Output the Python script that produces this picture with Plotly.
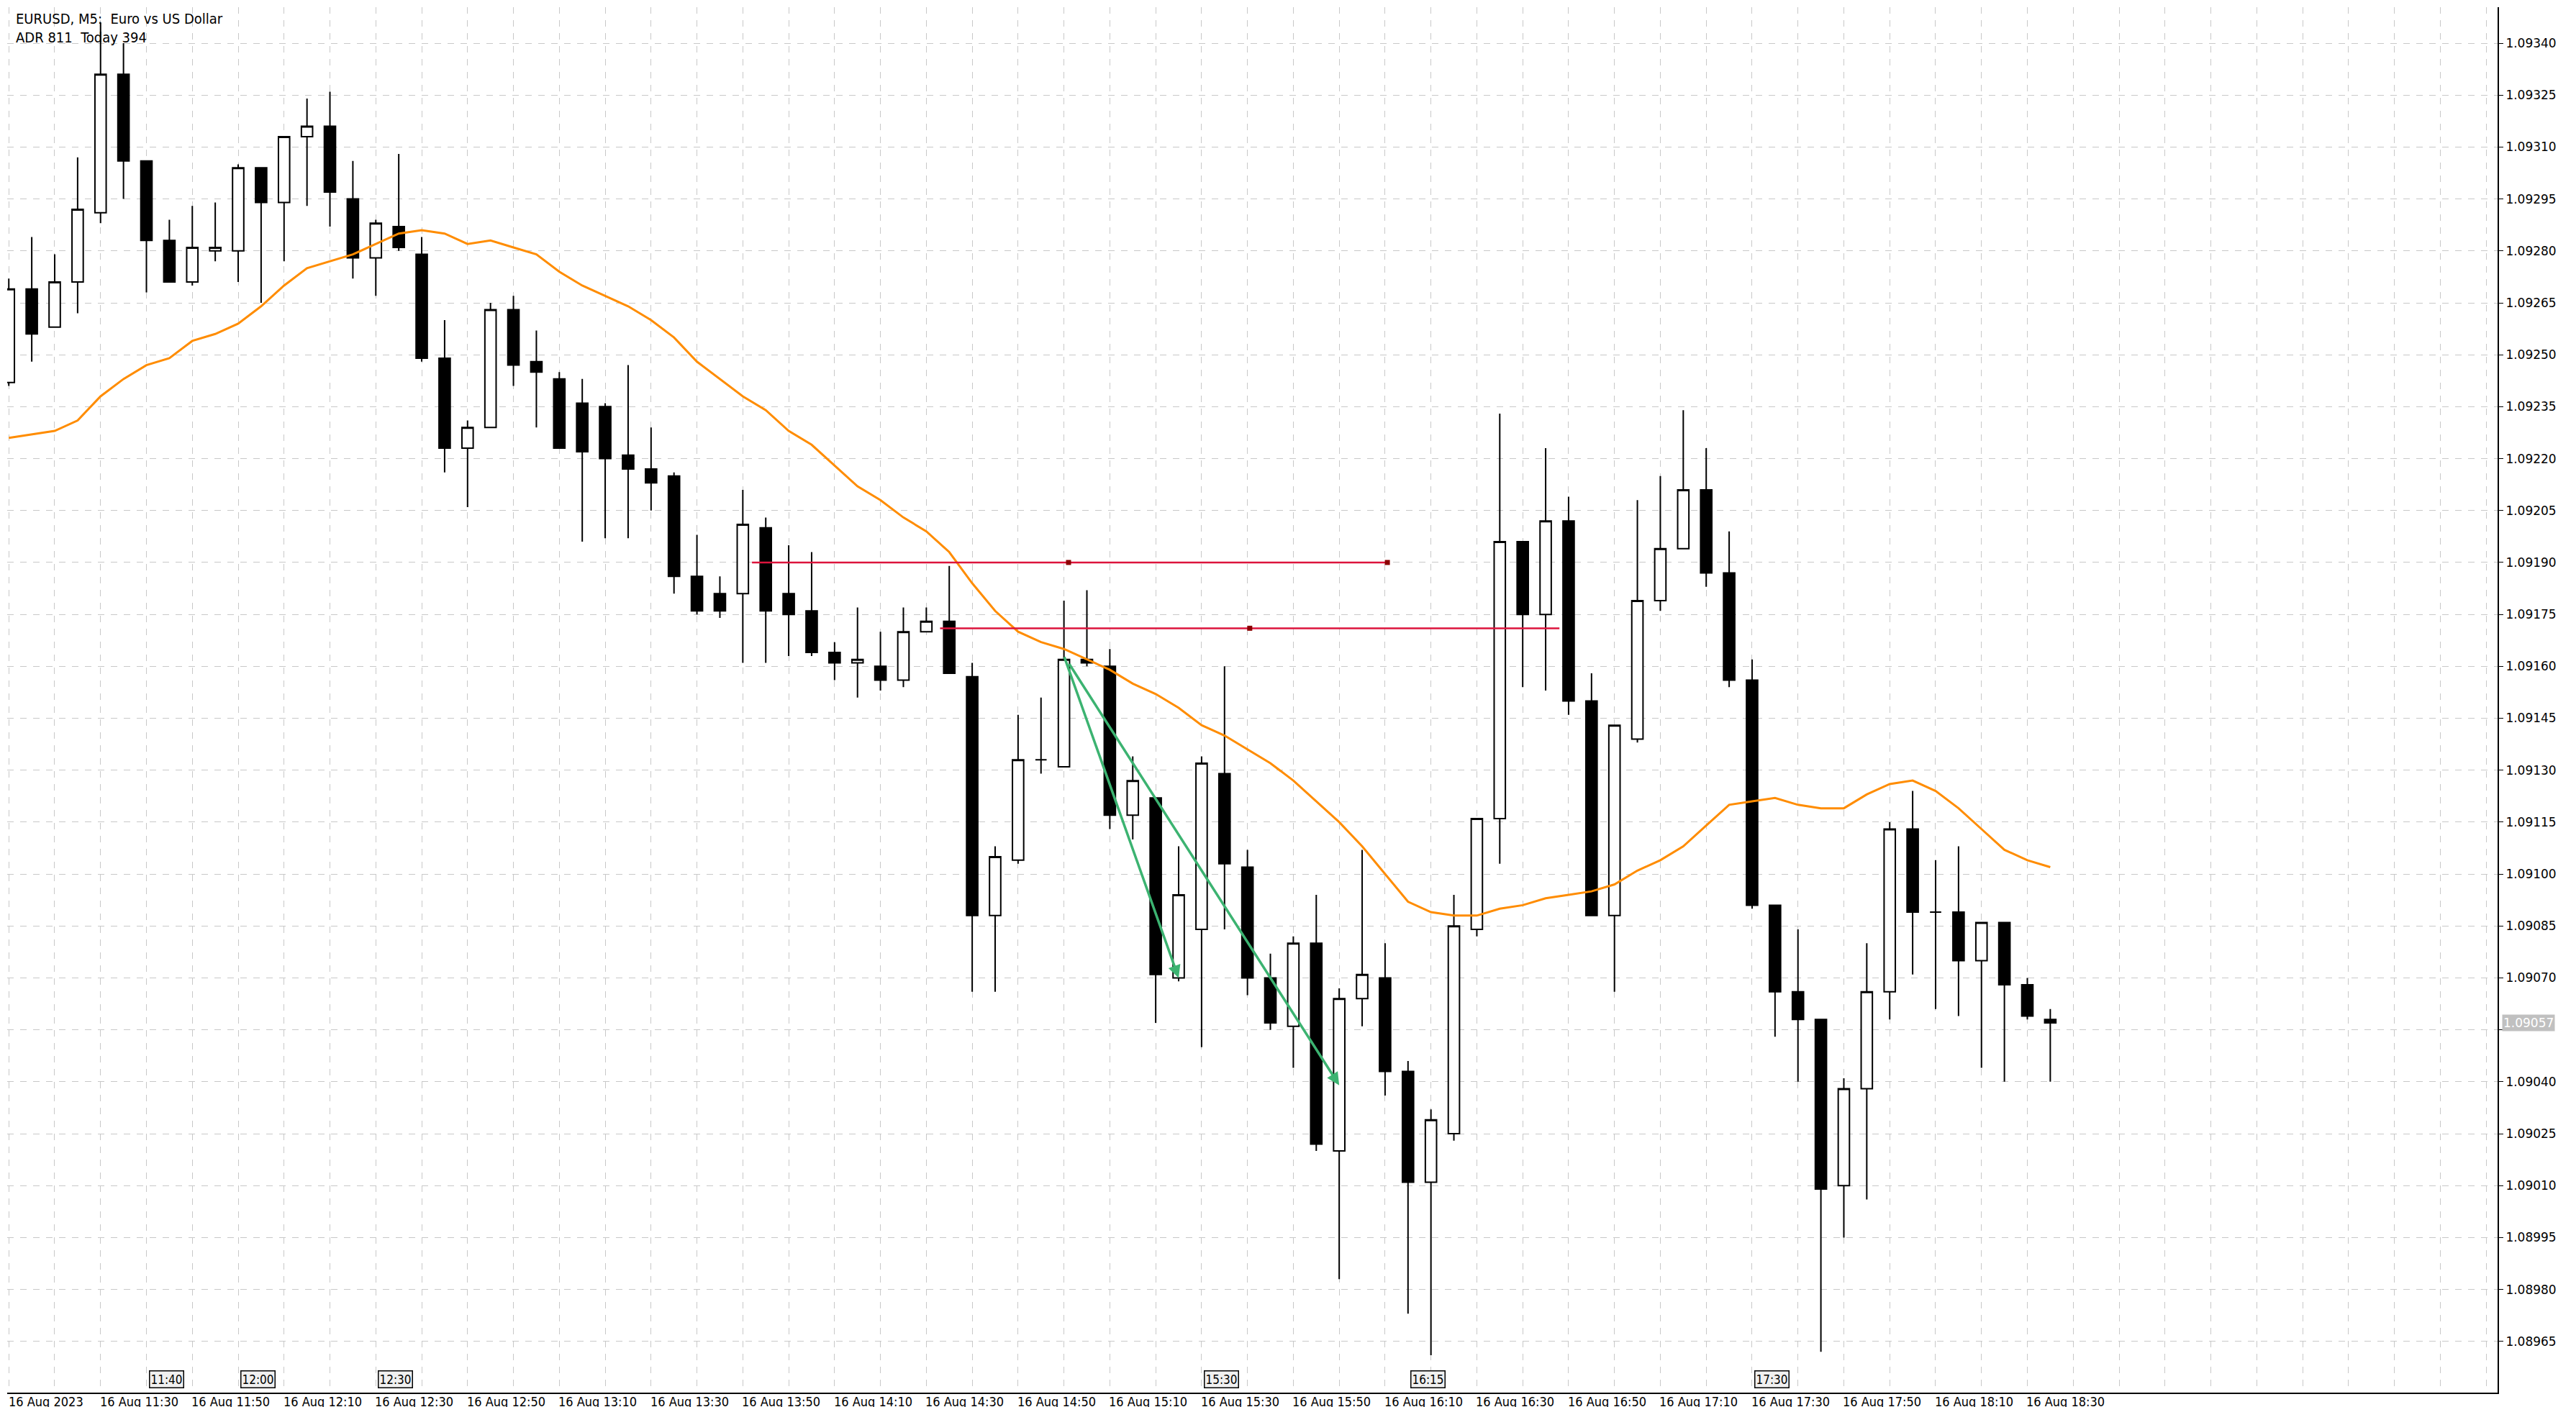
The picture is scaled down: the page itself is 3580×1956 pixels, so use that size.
import plotly.graph_objects as go

BASE = 1.08900
# prices as points (1e-5) above 1.08900, bar index 0 = first visible bar
opens  = [342,369,358,371,391,431,406,383,371,380,380,404,394,413,416,395,378,387,379,349,323,329,363,348,343,336,335,321,317,315,
          286,281,281,300,281,276,264,261,260,256,270,273,257,188,204,233,231,262,260,217,222,170,184,229,202,170,156,180,120,164,
          170,143,111,125,184,216,296,275,302,250,188,239,279,294,311,287,256,191,166,158,110,138,166,213,189,189,175,186,168,158]
highs  = [372,384,379,407,446,440,406,389,393,394,405,404,413,424,426,406,389,408,384,360,331,365,367,357,345,343,336,347,329,316,
          298,286,311,303,295,293,267,277,270,277,277,289,261,208,246,251,279,282,265,234,222,208,234,260,207,177,182,194,167,207,
          180,146,132,194,216,333,296,323,309,258,243,308,315,334,323,299,262,191,184,158,141,180,215,224,204,208,186,186,170,161]
lows   = [341,348,358,362,388,395,368,371,370,377,371,365,377,393,387,372,367,380,348,316,306,329,341,329,323,296,297,297,305,281,
          275,274,261,261,263,263,256,251,253,254,270,258,166,166,203,229,231,260,213,210,157,169,150,184,165,155,144,120,83,156,
          136,73,61,123,182,203,254,253,246,188,166,238,276,294,283,254,190,153,140,62,95,106,158,171,161,159,144,140,158,140]
closes = [369,356,371,392,431,406,383,371,381,381,404,394,413,416,397,378,388,381,349,323,329,363,347,345,323,322,320,317,313,286,
          276,276,301,276,275,264,261,262,256,270,273,258,188,205,233,233,262,261,217,227,171,194,232,203,170,157,180,122,164,171,
          143,111,129,185,216,296,275,302,250,188,243,279,294,311,287,256,191,166,158,109,138,166,213,189,189,175,186,168,159,157]
ma     = [326,327,328,331,338,343,347,349,354,356,359,364,370,375,377,379,382,385,386,385,382,383,381,379,374,370,367,364,360,355,
          348,343,338,334,328,324,318,312,308,303,299,293,284,276,270,267,265,262,259,255,252,248,243,240,236,232,227,221,215,208,
          200,192,189,188,188,190,191,193,194,195,197,201,204,208,214,220,221,222,220,219,219,223,226,227,224,219,213,207,204,202]

tick_times = ["16 Aug 2023"] + ["16 Aug %d:%02d" % ((11*60+30+20*k)//60, (11*60+30+20*k) % 60) for k in range(22)]
sep_labels = ["11:40", "12:00", "12:30", "15:30", "16:15", "17:30"]
sep_pos = [6.1, 10.1, 16.1, 52.1, 61.1, 76.1]
hline_levels = [290, 271]
hline_spans = [(32.4, 60.1, [46.2, 60.1]), (40.6, 67.6, [54.1])]
arrows = [(46, 263, 51, 170), (46.2, 261, 58, 139)]
last_price = 1.09057

def P(p):
    return BASE + p / 1e5

x = list(range(len(opens)))
fig = go.Figure()
fig.add_trace(go.Candlestick(
    x=x, open=[P(v) for v in opens], high=[P(v) for v in highs],
    low=[P(v) for v in lows], close=[P(v) for v in closes],
    increasing=dict(fillcolor="white", line=dict(color="black", width=2)),
    decreasing=dict(fillcolor="black", line=dict(color="black", width=2)),
    whiskerwidth=0, showlegend=False, hoverinfo="skip"))
fig.add_trace(go.Scatter(x=x, y=[P(v) for v in ma], mode="lines",
                         line=dict(color="#FF8C00", width=3), showlegend=False))
for lvl, (x0, x1, marks) in zip(hline_levels, hline_spans):
    fig.add_trace(go.Scatter(x=[x0, x1], y=[P(lvl)]*2, mode="lines",
                             line=dict(color="#DC143C", width=2.5), showlegend=False))
    fig.add_trace(go.Scatter(x=marks, y=[P(lvl)]*len(marks), mode="markers",
                             marker=dict(color="#8B0000", size=7, symbol="square"), showlegend=False))
for (a0, p0, a1, p1) in arrows:
    fig.add_annotation(x=a1, y=P(p1), ax=a0, ay=P(p0), xref="x", yref="y", axref="x", ayref="y",
                       showarrow=True, arrowhead=2, arrowsize=1, arrowwidth=3.5, arrowcolor="#3CB371", text="")

yt = [1.08965 + 0.00015*k for k in range(26)]
ytext = ["" if abs(v - last_price) < 0.00005 else "%.5f" % v for v in yt]
fig.update_yaxes(range=[1.089502, 1.093504], side="right", tickvals=yt,
                 ticktext=ytext, showgrid=True, gridcolor="#c8c8c8",
                 griddash="dash", gridwidth=1, ticks="outside", ticklen=6, tickcolor="black",
                 showline=True, linecolor="black", linewidth=2, mirror=False,
                 tickfont=dict(family="DejaVu Sans", size=17, color="black"), zeroline=False)
fig.update_xaxes(range=[-0.07, 108.5], tickmode="linear", tick0=0, dtick=2, showticklabels=False,
                 showgrid=True, gridcolor="#c8c8c8", griddash="dash", gridwidth=1,
                 showline=True, linecolor="black", linewidth=2, rangeslider=dict(visible=False), zeroline=False)

for k, t in enumerate(tick_times):
    if k == 0:
        fig.add_annotation(x=0, y=0, xref="paper", yref="paper", yanchor="top", xanchor="left",
                           text=t, showarrow=False, font=dict(family="DejaVu Sans Condensed", size=18, color="black"))
    else:
        fig.add_annotation(x=4*k - 0.1, y=0, xref="x", yref="paper", yanchor="top", xanchor="left",
                           text=t, showarrow=False, font=dict(family="DejaVu Sans Condensed", size=18, color="black"))
for lab, pos in zip(sep_labels, sep_pos):
    fig.add_annotation(x=pos, y=0.003, xref="x", yref="paper", yanchor="bottom", xanchor="left",
                       text=lab, showarrow=False, bgcolor="#f0f0f0", bordercolor="black", borderwidth=1.5,
                       borderpad=1, font=dict(family="DejaVu Sans Condensed", size=17, color="black"))
fig.add_annotation(x=1.0, y=last_price, xref="paper", yref="y", xanchor="left", text="%.5f" % last_price,
                   showarrow=False, bgcolor="#c0c0c0", font=dict(family="DejaVu Sans", size=17, color="white"), xshift=6)
fig.add_annotation(x=0.003, y=0.999, xref="paper", yref="paper", xanchor="left", yanchor="top", align="left",
                   text="EURUSD, M5:  Euro vs US Dollar<br>ADR 811  Today 394", showarrow=False,
                   font=dict(family="DejaVu Sans Condensed", size=20, color="black"))

fig.update_layout(width=3580, height=1956, paper_bgcolor="white", plot_bgcolor="white",
                  margin=dict(l=2, r=117, t=2, b=28), showlegend=False)
fig.write_html("out.html")
